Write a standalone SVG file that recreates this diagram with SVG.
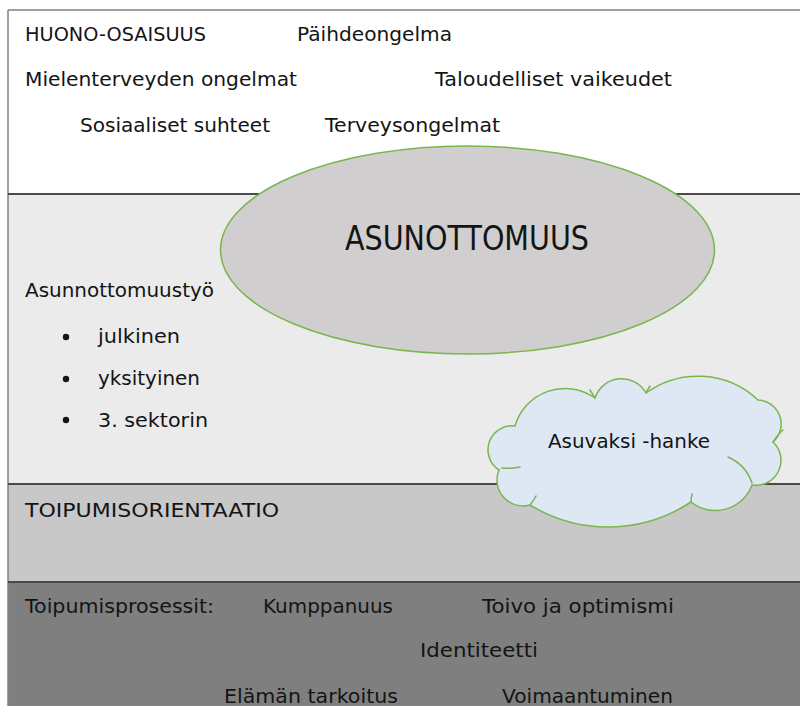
<svg xmlns="http://www.w3.org/2000/svg" width="800" height="706" viewBox="0 0 800 706">
  <style>
    .t { font-family: "DejaVu Sans", "Liberation Sans", Arial, sans-serif; font-size: 20px; fill: #141414; }
    .big { font-size: 33px; }
    .band-line { stroke: #4a4a4a; stroke-width: 2; }
    .shape { stroke: #7ab54d; stroke-width: 1.5; }
    .curl { fill: none; stroke: #7ab54d; stroke-width: 1.5; stroke-linecap: round; }
  </style>
  <rect x="0" y="0" width="800" height="706" fill="#ffffff"/>

  <g id="band-huono-osaisuus">
    <rect x="8" y="10" width="792" height="184" fill="#ffffff"/>
    <text class="t" x="25" y="41" textLength="181" lengthAdjust="spacingAndGlyphs">HUONO-OSAISUUS</text>
    <text class="t" x="297" y="41" textLength="155" lengthAdjust="spacingAndGlyphs">Päihdeongelma</text>
    <text class="t" x="25" y="86" textLength="272" lengthAdjust="spacingAndGlyphs">Mielenterveyden ongelmat</text>
    <text class="t" x="435" y="86" textLength="237" lengthAdjust="spacingAndGlyphs">Taloudelliset vaikeudet</text>
    <text class="t" x="80" y="132" textLength="190" lengthAdjust="spacingAndGlyphs">Sosiaaliset suhteet</text>
    <text class="t" x="325" y="132" textLength="175" lengthAdjust="spacingAndGlyphs">Terveysongelmat</text>
  </g>

  <g id="band-asunnottomuustyo">
    <rect x="8" y="194" width="792" height="290" fill="#ebebeb"/>
    <text class="t" x="25" y="297" textLength="189" lengthAdjust="spacingAndGlyphs">Asunnottomuustyö</text>
    <circle cx="66" cy="337" r="3.2" fill="#141414"/>
    <circle cx="66" cy="379" r="3.2" fill="#141414"/>
    <circle cx="66" cy="420" r="3.2" fill="#141414"/>
    <text class="t" x="98" y="343" textLength="82" lengthAdjust="spacingAndGlyphs">julkinen</text>
    <text class="t" x="98" y="385" textLength="102" lengthAdjust="spacingAndGlyphs">yksityinen</text>
    <text class="t" x="98" y="427" textLength="110" lengthAdjust="spacingAndGlyphs">3. sektorin</text>
  </g>

  <g id="band-toipumisorientaatio">
    <rect x="8" y="484" width="792" height="98" fill="#c8c8c8"/>
    <text class="t" x="25" y="517" textLength="254" lengthAdjust="spacingAndGlyphs">TOIPUMISORIENTAATIO</text>
  </g>

  <g id="band-toipumisprosessit">
    <rect x="8" y="582" width="792" height="124" fill="#7f7f7f"/>
    <text class="t" x="25" y="613" textLength="189" lengthAdjust="spacingAndGlyphs">Toipumisprosessit:</text>
    <text class="t" x="263" y="613" textLength="130" lengthAdjust="spacingAndGlyphs">Kumppanuus</text>
    <text class="t" x="482" y="613" textLength="192" lengthAdjust="spacingAndGlyphs">Toivo ja optimismi</text>
    <text class="t" x="420" y="657" textLength="118" lengthAdjust="spacingAndGlyphs">Identiteetti</text>
    <text class="t" x="224" y="703" textLength="174" lengthAdjust="spacingAndGlyphs">Elämän tarkoitus</text>
    <text class="t" x="502" y="703" textLength="171" lengthAdjust="spacingAndGlyphs">Voimaantuminen</text>
  </g>

  <g id="frame">
    <line x1="8" y1="10" x2="800" y2="10" stroke="#808080" stroke-width="1.5"/>
    <line x1="8" y1="10" x2="8" y2="706" stroke="#808080" stroke-width="1.5"/>
    <line class="band-line" x1="8" y1="194" x2="800" y2="194"/>
    <line class="band-line" x1="8" y1="484" x2="800" y2="484"/>
    <line class="band-line" x1="8" y1="582" x2="800" y2="582"/>
  </g>

  <g id="asunnottomuus">
    <ellipse class="shape" cx="467.5" cy="250" rx="247" ry="104" fill="#d0cecf"/>
    <text class="t big" x="345" y="250" textLength="244" lengthAdjust="spacingAndGlyphs">ASUNOTTOMUUS</text>
  </g>

  <g id="asuvaksi-hanke">
    <path class="shape" fill="#dde8f4" d="M499,470 A24,24 0 0 1 515,426 A52,52 0 0 1 595,398 A28,28 0 0 1 646,393 A88,88 0 0 1 758,400 A24,24 0 0 1 773,442 A25,25 0 0 1 752,485 A39,39 0 0 1 691,502 A150,150 0 0 1 530,505 A26,26 0 0 1 499,470 Z"/>
    <path class="curl" d="M502,468 Q511,469 520,467 M595,398 Q592,393 590,390 M646,393 Q648,389 650,386 M752,483 Q746,465 728,457 M773,442 Q777,435 783,430 M691,502 Q691,498 692,494 M530,505 Q534,500 536,496"/>
    <text class="t" x="548" y="448" textLength="162" lengthAdjust="spacingAndGlyphs">Asuvaksi -hanke</text>
  </g>
</svg>
